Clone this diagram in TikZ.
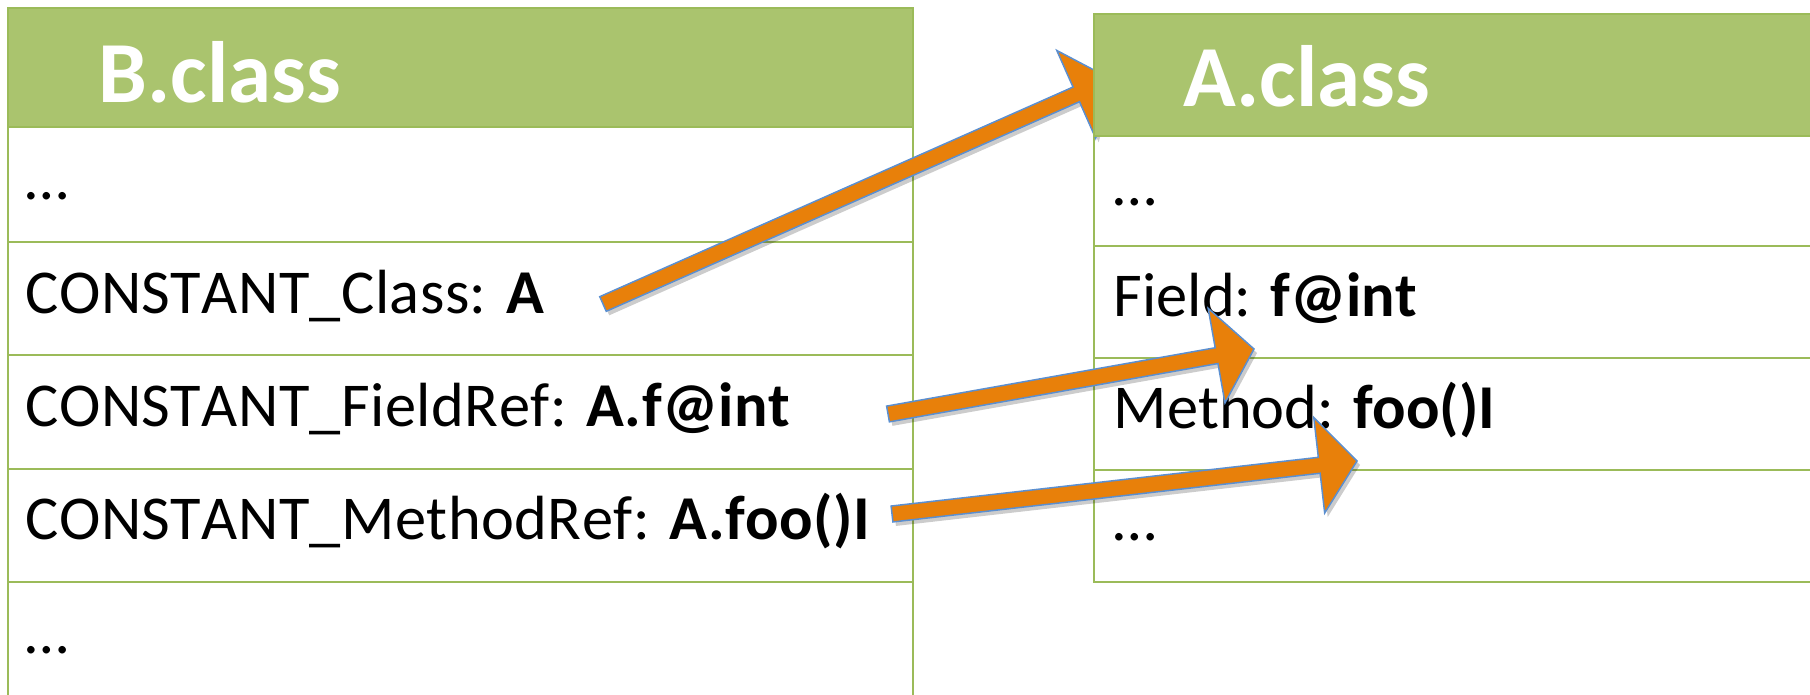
\documentclass[tikz,border=0pt]{standalone}
\usepackage{fontspec}
\setmainfont{Carlito}[Kerning=Off]
\usetikzlibrary{calc}
\definecolor{hdrgreen}{HTML}{AAC46E}
\definecolor{linegreen}{HTML}{9BBB59}
\definecolor{arroworange}{HTML}{E8800A}
\definecolor{arrowblue}{HTML}{5B8FD0}
\newcommand\blkarrow[3][]{%
  \coordinate (ba) at ($(#3)!0.38cm!(#2)$);
  \filldraw[#1] ($(#2)!0.08cm!90:(#3)$) -- ($(ba)!0.08cm!90:(#3)$) -- ($(ba)!0.48cm!90:(#3)$) -- (#3)
     -- ($(ba)!0.48cm!-90:(#3)$) -- ($(ba)!0.08cm!-90:(#3)$) -- ($(#2)!0.08cm!-90:(#3)$) -- cycle;}
\begin{document}
\begin{tikzpicture}[x=0.01cm,y=-0.01cm,
  cell/.style={draw=linegreen, line width=0.025cm},
  hdr/.style={fill=hdrgreen, draw=linegreen, line width=0.025cm},
  txt/.style={anchor=base west, inner sep=0pt, font=\fontsize{17.75}{21}\selectfont},
  ltxt/.style={txt, font=\fontsize{17.75}{21}\selectfont\addfontfeature{LetterSpace=0.7}},
  ttl/.style={anchor=base west, inner sep=0pt, text=white, font=\fontsize{24.75}{30}\selectfont\bfseries},
  arrowbody/.style={fill=arroworange, draw=arrowblue, line width=0.015cm, line join=miter},
  arrowshadow/.style={fill=black, draw=none, opacity=0.2, transform canvas={shift={(0.03cm,-0.04cm)}}}]
\useasboundingbox (0,0) rectangle (1810,695);
\clip (0,0) rectangle (1810,695);
% left table (B.class)
\draw[hdr] (8,8) rectangle (913,127);
\draw[cell] (8,127) -- (8,705) (913,127) -- (913,705);
\foreach \yy in {242,355,469,582} \draw[cell] (8,\yy) -- (913,\yy);
\node[ttl] (btitle) at (98,103) {B.class};
\node[txt] (b1) at (25,200) {…};
\node[ltxt] (b2) at (25,314) {CONSTANT\_Class: \textbf{A}};
\node[ltxt] (b3) at (25,427) {CONSTANT\_FieldRef: \textbf{A.f@int}};
\node[ltxt] (b4) at (25,540) {CONSTANT\_MethodRef: \textbf{A.foo()I}};
\node[txt] (b5) at (25,653) {…};
% right table body (A.class)
\draw[cell] (1840,136) -- (1094,136) -- (1094,582) -- (1840,582);
\foreach \yy in {246,358,470} \draw[cell] (1094,\yy) -- (1840,\yy);
\node[txt] (a1) at (1113,206) {…};
\node[txt] (a2) at (1113,317) {Field: \textbf{f@int}};
\node[txt] (a3) at (1113,429) {Method: \textbf{foo()I}};
\node[txt] (a4) at (1113,541) {…};
% arrows
\coordinate (t1) at (603,304); \coordinate (p1) at (1111,79);
\coordinate (t2) at (888,414); \coordinate (p2) at (1254,349);
\coordinate (t3) at (892,514); \coordinate (p3) at (1357,461);
\blkarrow[arrowshadow]{t1}{p1}
\blkarrow[arrowshadow]{t2}{p2}
\blkarrow[arrowshadow]{t3}{p3}
\blkarrow[arrowbody]{t1}{p1}
\blkarrow[arrowbody]{t2}{p2}
\blkarrow[arrowbody]{t3}{p3}
% right header drawn over the first arrow
\draw[hdr] (1094,14) rectangle (1840,136);
\node[ttl] (atitle) at (1183,107) {A.class};
\end{tikzpicture}
\end{document}
